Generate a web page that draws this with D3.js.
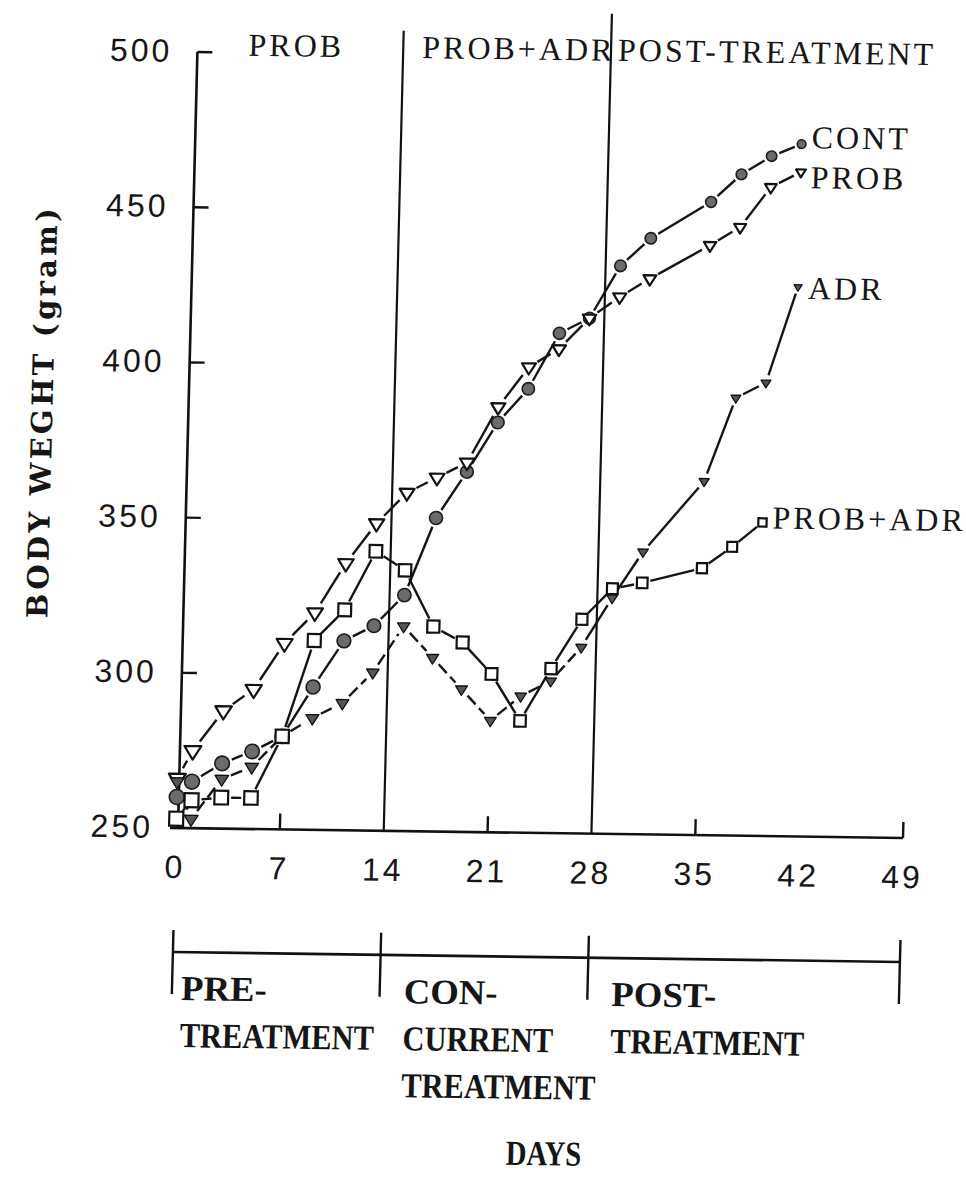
<!DOCTYPE html>
<html>
<head>
<meta charset="utf-8">
<script src="https://cdn.jsdelivr.net/npm/d3@7"></script>
<style>
body{margin:0;background:#fff;}
svg{display:block;background:#fff;}
.tick-label{font-family:"Liberation Sans",Arial,sans-serif;font-size:32px;letter-spacing:3px;fill:#161616;}
.head-label{font-family:"Liberation Serif",serif;font-size:32px;letter-spacing:3px;fill:#161616;}
.phase-label{font-family:"Liberation Serif",serif;font-weight:bold;font-size:35px;fill:#161616;}
.y-title{font-family:"DejaVu Serif",serif;font-weight:bold;font-size:29px;fill:#161616;}
</style>
</head>
<body>
<svg id="chart" width="966" height="1185"></svg>
<script>
// days of weighing, body weight in gram
var days = [0,1,3,5,7,9,11,13,15,17,19,21,23,25,27,29,31,35,37,39,41];
var contValues = [260,265,271,275,280,296,311,316,326,351,366,382,393,411,416,433,442,454,463,469,473];
var probValues = [266,275,288,295,310,320,336,349,359,364,369,387,400,406,416,423,429,440,446,459,464];
var adrValues = [265,253,266,270,280,286,291,301,316,306,296,286,294,299,310,326,341,364,391,396,427];
var probAdrValues = [253,259,260,260,280,311,321,340,334,316,311,301,286,303,319,329,331,336,343,351];

var xTickValues = [0,7,14,21,28,35,42,49];
var yTickValues = [250,300,350,400,450,500];
var periodTitles = ["PROB","PROB+ADR","POST-TREATMENT"];
var phaseBounds = [0,14,28,49];
var phaseLabels = [["PRE-","TREATMENT"],["CON-","CURRENT","TREATMENT"],["POST-","TREATMENT"]];

var svg = d3.select('#chart');
// the scanned figure is slightly skewed, whole drawing goes in a sheared group
var page = svg.append('g')
	.attr('transform','translate(176,828) matrix(1,0.0137,-0.025,1,0,0) translate(-176,-828)');

var xScale = d3.scaleLinear().domain([0,49]).range([176,903]);
var yScale = d3.scaleLinear().domain([250,500]).range([828,52]);
var sizeScale = d3.scaleLinear().domain([0,41]).range([1,0.68]).clamp(true);

var series = [
	{name:'CONT', values:contValues, marker:'circle', size:7.5, dash:null, labelDy:4},
	{name:'PROB', values:probValues, marker:'openTri', size:8.5, dash:null, labelDy:16},
	{name:'ADR', values:adrValues, marker:'fillTri', size:7, dash:'12,5', labelDy:12},
	{name:'PROB+ADR', values:probAdrValues, marker:'square', size:7, dash:null, labelDy:6}
];

// axes
var axisX = xScale(0)+2;
page.append('line')
	.attr('x1',axisX).attr('x2',axisX)
	.attr('y1',yScale(250)).attr('y2',yScale(500))
	.attr('stroke','#111').attr('stroke-width',2.6);
page.append('g').selectAll('line')
	.data(yTickValues.slice(1)).enter()
	.append('line')
	.attr('x1',axisX).attr('x2',axisX+15)
	.attr('y1',function(v){ return yScale(v);})
	.attr('y2',function(v){ return yScale(v);})
	.attr('stroke','#111').attr('stroke-width',2.4);
page.append('g').selectAll('text')
	.data(yTickValues).enter()
	.append('text')
	.attr('class','tick-label')
	.attr('text-anchor','end')
	.attr('x',153)
	.attr('y',function(v){ return yScale(v)+10;})
	.text(function(v){ return v;});

page.append('line')
	.attr('x1',xScale(0)-6).attr('x2',xScale(49))
	.attr('y1',yScale(250)).attr('y2',yScale(250))
	.attr('stroke','#111').attr('stroke-width',2.6);
page.append('g').selectAll('line')
	.data(xTickValues.filter(function(d){ return d%14!==0;})).enter()
	.append('line')
	.attr('x1',function(d){ return xScale(d);})
	.attr('x2',function(d){ return xScale(d);})
	.attr('y1',yScale(250)).attr('y2',yScale(250)-16)
	.attr('stroke','#111').attr('stroke-width',2.4);
page.append('g').selectAll('text')
	.data(xTickValues).enter()
	.append('text')
	.attr('class','tick-label')
	.attr('text-anchor','middle')
	.attr('x',function(d){ return xScale(d);})
	.attr('y',878)
	.text(function(d){ return d;});

// period dividers at day 14 and 28
var dividerTops = [28,8];
page.append('g').selectAll('line')
	.data([14,28]).enter()
	.append('line')
	.attr('x1',function(d){ return xScale(d);})
	.attr('x2',function(d){ return xScale(d);})
	.attr('y1',yScale(250))
	.attr('y2',function(d,i){ return dividerTops[i];})
	.attr('stroke','#111').attr('stroke-width',2.2);

var titleOffsets = [53,19,7];
page.append('g').selectAll('text')
	.data(periodTitles).enter()
	.append('text')
	.attr('class','head-label')
	.attr('x',function(t,i){ return xScale(phaseBounds[i])+titleOffsets[i];})
	.attr('y',55)
	.text(function(t){ return t;});

// lines, cut short around the markers
function shorten(a,b,ga,gb)
{
	var dx = b.x-a.x, dy = b.y-a.y;
	var len = Math.sqrt(dx*dx+dy*dy);
	if(len < ga+gb+3) return null;
	return {c:[a.x+dx*ga/len, a.y+dy*ga/len, b.x-dx*gb/len, b.y-dy*gb/len], day:b.day};
}

series.forEach(function(s)
{
	var pts = s.values.map(function(v,i){
		var k = sizeScale(days[i]);
		if(i===s.values.length-1) k = k*0.85;
		return {x:xScale(days[i]), y:yScale(v), r:s.size*k, day:days[i]};
	});
	s.points = pts;
	var segs = d3.pairs(pts).map(function(p){
		return shorten(p[0],p[1],p[0].r+3,p[1].r+3);
	}).filter(function(c){ return c!==null;});

	page.append('g')
		.attr('class','line-'+s.marker)
		.selectAll('line')
		.data(segs).enter()
		.append('line')
		.attr('x1',function(g){ return g.c[0];})
		.attr('y1',function(g){ return g.c[1];})
		.attr('x2',function(g){ return g.c[2];})
		.attr('y2',function(g){ return g.c[3];})
		.attr('stroke','#141414')
		.attr('stroke-width',2.4)
		.attr('stroke-dasharray',function(g){ return g.day<=28 ? s.dash : null;});
});

function triDown(w)
{
	var h = w*1.6;
	return 'M'+(-w)+','+(-h/3)+'L'+w+','+(-h/3)+'L0,'+(2*h/3)+'Z';
}

series.forEach(function(s)
{
	var g = page.append('g').attr('class','marks-'+s.marker);
	var marks = g.selectAll('g')
		.data(s.points).enter()
		.append('g')
		.attr('transform',function(p){ return 'translate('+p.x+','+p.y+')';});
	if(s.marker==='circle')
	{
		marks.append('circle')
			.attr('r',function(p){ return p.r;})
			.attr('fill','#6b6b6b').attr('stroke','#1c1c1c').attr('stroke-width',1.6);
	}
	else if(s.marker==='square')
	{
		marks.append('rect')
			.attr('x',function(p){ return -p.r;})
			.attr('y',function(p){ return -p.r;})
			.attr('width',function(p){ return 2*p.r;})
			.attr('height',function(p){ return 2*p.r;})
			.attr('fill','#fff').attr('stroke','#111').attr('stroke-width',2.2);
	}
	else
	{
		marks.append('path')
			.attr('d',function(p){ return triDown(p.r);})
			.attr('fill',s.marker==='fillTri' ? '#555' : '#fff')
			.attr('stroke','#111')
			.attr('stroke-width',s.marker==='fillTri' ? 1.3 : 2.2)
			.attr('stroke-linejoin','round');
	}

	var last = s.points[s.points.length-1];
	page.append('text')
		.attr('class','head-label')
		.attr('x',last.x+10)
		.attr('y',last.y+s.labelDy)
		.text(s.name);
});

// y title
page.append('text')
	.attr('class','y-title')
	.attr('text-anchor','middle')
	.attr('transform','translate(42,415) rotate(-90)')
	.attr('textLength',410)
	.attr('lengthAdjust','spacing')
	.text('BODY WEGHT (gram)');

// treatment phases under the axis
var barY = 952;
page.append('line')
	.attr('x1',xScale(0)).attr('x2',xScale(49))
	.attr('y1',barY).attr('y2',barY)
	.attr('stroke','#111').attr('stroke-width',2.6);
page.append('g').selectAll('line')
	.data(phaseBounds).enter()
	.append('line')
	.attr('x1',function(d){ return xScale(d);})
	.attr('x2',function(d){ return xScale(d);})
	.attr('y1',barY-22).attr('y2',barY+42)
	.attr('stroke','#111').attr('stroke-width',2.4);

var phaseOffsets = [9,24,24];
phaseLabels.forEach(function(lines,i)
{
	page.append('g').selectAll('text')
		.data(lines).enter()
		.append('text')
		.attr('class','phase-label')
		.attr('x',xScale(phaseBounds[i])+phaseOffsets[i])
		.attr('y',function(t,j){ return 1000+j*47;})
		.text(function(t){ return t;})
		.each(function(t){
			var f = /-$/.test(t) ? 1.05 : 0.87;
			d3.select(this)
				.attr('textLength',this.getComputedTextLength()*f)
				.attr('lengthAdjust','spacingAndGlyphs');
		});
});

page.append('text')
	.attr('class','phase-label')
	.attr('text-anchor','middle')
	.attr('x',(xScale(0)+xScale(49))/2+12)
	.attr('y',1160)
	.text('DAYS')
	.each(function(){
		d3.select(this)
			.attr('textLength',this.getComputedTextLength()*0.82)
			.attr('lengthAdjust','spacingAndGlyphs');
	});
</script>
</body>
</html>
